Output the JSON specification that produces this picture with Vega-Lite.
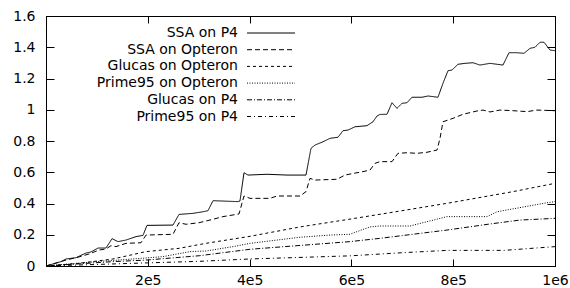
{
  "$schema": "https://vega.github.io/schema/vega-lite/v6.json",
  "width": 509,
  "height": 250,
  "autosize": {"type": "none"},
  "padding": {"left": 46, "top": 16, "right": 15, "bottom": 22},
  "background": "white",
  "config": {
    "view": {"stroke": "black", "strokeWidth": 1},
    "axis": {
      "domainColor": "black", "tickColor": "black", "labelColor": "black",
      "labelFont": "DejaVu Sans", "labelFontSize": 14, "grid": false, "title": null,
      "domainWidth": 1, "tickWidth": 1
    }
  },
  "data": {"values": [
    {"s":"SSA on P4","x":0,"y":0},{"s":"SSA on P4","x":29500,"y":0.028},{"s":"SSA on P4","x":39300,"y":0.045},{"s":"SSA on P4","x":58900,"y":0.053},{"s":"SSA on P4","x":78600,"y":0.083},{"s":"SSA on P4","x":88400,"y":0.09},{"s":"SSA on P4","x":102200,"y":0.115},{"s":"SSA on P4","x":117900,"y":0.115},{"s":"SSA on P4","x":129700,"y":0.175},{"s":"SSA on P4","x":141500,"y":0.156},{"s":"SSA on P4","x":157200,"y":0.166},{"s":"SSA on P4","x":176800,"y":0.188},{"s":"SSA on P4","x":190600,"y":0.196},{"s":"SSA on P4","x":198400,"y":0.26},{"s":"SSA on P4","x":249500,"y":0.262},{"s":"SSA on P4","x":261300,"y":0.33},{"s":"SSA on P4","x":288800,"y":0.337},{"s":"SSA on P4","x":308400,"y":0.347},{"s":"SSA on P4","x":318300,"y":0.354},{"s":"SSA on P4","x":328100,"y":0.418},{"s":"SSA on P4","x":377200,"y":0.412},{"s":"SSA on P4","x":381100,"y":0.416},{"s":"SSA on P4","x":389000,"y":0.597},{"s":"SSA on P4","x":396800,"y":0.582},{"s":"SSA on P4","x":434200,"y":0.587},{"s":"SSA on P4","x":473500,"y":0.582},{"s":"SSA on P4","x":510800,"y":0.582},{"s":"SSA on P4","x":520600,"y":0.753},{"s":"SSA on P4","x":528500,"y":0.774},{"s":"SSA on P4","x":544200,"y":0.795},{"s":"SSA on P4","x":557900,"y":0.817},{"s":"SSA on P4","x":573700,"y":0.824},{"s":"SSA on P4","x":583500,"y":0.866},{"s":"SSA on P4","x":593300,"y":0.87},{"s":"SSA on P4","x":607100,"y":0.891},{"s":"SSA on P4","x":630600,"y":0.898},{"s":"SSA on P4","x":642400,"y":0.923},{"s":"SSA on P4","x":650300,"y":0.96},{"s":"SSA on P4","x":656200,"y":0.97},{"s":"SSA on P4","x":669900,"y":0.971},{"s":"SSA on P4","x":679800,"y":1.045},{"s":"SSA on P4","x":689600,"y":1.009},{"s":"SSA on P4","x":699400,"y":1.041},{"s":"SSA on P4","x":709200,"y":1.045},{"s":"SSA on P4","x":719000,"y":1.08},{"s":"SSA on P4","x":738700,"y":1.08},{"s":"SSA on P4","x":750500,"y":1.088},{"s":"SSA on P4","x":770100,"y":1.08},{"s":"SSA on P4","x":779900,"y":1.169},{"s":"SSA on P4","x":789800,"y":1.25},{"s":"SSA on P4","x":797600,"y":1.254},{"s":"SSA on P4","x":809400,"y":1.291},{"s":"SSA on P4","x":823200,"y":1.297},{"s":"SSA on P4","x":838900,"y":1.301},{"s":"SSA on P4","x":852600,"y":1.286},{"s":"SSA on P4","x":872300,"y":1.297},{"s":"SSA on P4","x":897800,"y":1.286},{"s":"SSA on P4","x":909600,"y":1.365},{"s":"SSA on P4","x":925300,"y":1.365},{"s":"SSA on P4","x":939100,"y":1.361},{"s":"SSA on P4","x":950900,"y":1.393},{"s":"SSA on P4","x":960700,"y":1.4},{"s":"SSA on P4","x":970500,"y":1.432},{"s":"SSA on P4","x":978400,"y":1.432},{"s":"SSA on P4","x":990200,"y":1.382},{"s":"SSA on P4","x":1000000,"y":1.378},
    {"s":"SSA on Opteron","x":0,"y":0},{"s":"SSA on Opteron","x":39300,"y":0.038},{"s":"SSA on Opteron","x":64800,"y":0.058},{"s":"SSA on Opteron","x":84500,"y":0.077},{"s":"SSA on Opteron","x":104100,"y":0.102},{"s":"SSA on Opteron","x":117900,"y":0.109},{"s":"SSA on Opteron","x":127700,"y":0.13},{"s":"SSA on Opteron","x":137500,"y":0.124},{"s":"SSA on Opteron","x":157200,"y":0.145},{"s":"SSA on Opteron","x":186600,"y":0.149},{"s":"SSA on Opteron","x":196500,"y":0.198},{"s":"SSA on Opteron","x":249500,"y":0.203},{"s":"SSA on Opteron","x":261300,"y":0.277},{"s":"SSA on Opteron","x":275000,"y":0.267},{"s":"SSA on Opteron","x":300600,"y":0.277},{"s":"SSA on Opteron","x":328100,"y":0.299},{"s":"SSA on Opteron","x":347700,"y":0.316},{"s":"SSA on Opteron","x":379200,"y":0.333},{"s":"SSA on Opteron","x":389000,"y":0.448},{"s":"SSA on Opteron","x":400800,"y":0.433},{"s":"SSA on Opteron","x":440100,"y":0.433},{"s":"SSA on Opteron","x":453800,"y":0.448},{"s":"SSA on Opteron","x":499000,"y":0.448},{"s":"SSA on Opteron","x":510800,"y":0.476},{"s":"SSA on Opteron","x":518700,"y":0.561},{"s":"SSA on Opteron","x":528500,"y":0.55},{"s":"SSA on Opteron","x":571700,"y":0.555},{"s":"SSA on Opteron","x":587400,"y":0.582},{"s":"SSA on Opteron","x":611000,"y":0.597},{"s":"SSA on Opteron","x":622800,"y":0.604},{"s":"SSA on Opteron","x":636500,"y":0.614},{"s":"SSA on Opteron","x":646400,"y":0.657},{"s":"SSA on Opteron","x":656200,"y":0.668},{"s":"SSA on Opteron","x":679800,"y":0.668},{"s":"SSA on Opteron","x":691500,"y":0.721},{"s":"SSA on Opteron","x":709200,"y":0.725},{"s":"SSA on Opteron","x":728900,"y":0.721},{"s":"SSA on Opteron","x":748500,"y":0.728},{"s":"SSA on Opteron","x":768200,"y":0.742},{"s":"SSA on Opteron","x":774100,"y":0.817},{"s":"SSA on Opteron","x":779900,"y":0.923},{"s":"SSA on Opteron","x":799600,"y":0.945},{"s":"SSA on Opteron","x":819200,"y":0.971},{"s":"SSA on Opteron","x":846700,"y":0.992},{"s":"SSA on Opteron","x":858500,"y":0.998},{"s":"SSA on Opteron","x":872300,"y":0.986},{"s":"SSA on Opteron","x":891900,"y":0.998},{"s":"SSA on Opteron","x":917500,"y":0.994},{"s":"SSA on Opteron","x":945000,"y":0.988},{"s":"SSA on Opteron","x":964600,"y":0.998},{"s":"SSA on Opteron","x":1000000,"y":0.994},
    {"s":"Glucas on Opteron","x":0,"y":0},{"s":"Glucas on Opteron","x":64800,"y":0.017},{"s":"Glucas on Opteron","x":131600,"y":0.045},{"s":"Glucas on Opteron","x":196500,"y":0.092},{"s":"Glucas on Opteron","x":261300,"y":0.113},{"s":"Glucas on Opteron","x":314300,"y":0.145},{"s":"Glucas on Opteron","x":400800,"y":0.19},{"s":"Glucas on Opteron","x":499000,"y":0.25},{"s":"Glucas on Opteron","x":597200,"y":0.3},{"s":"Glucas on Opteron","x":656200,"y":0.331},{"s":"Glucas on Opteron","x":787700,"y":0.401},{"s":"Glucas on Opteron","x":917500,"y":0.476},{"s":"Glucas on Opteron","x":1000000,"y":0.529},
    {"s":"Prime95 on Opteron","x":0,"y":0},{"s":"Prime95 on Opteron","x":98200,"y":0.028},{"s":"Prime95 on Opteron","x":163100,"y":0.043},{"s":"Prime95 on Opteron","x":229900,"y":0.06},{"s":"Prime95 on Opteron","x":282900,"y":0.092},{"s":"Prime95 on Opteron","x":314300,"y":0.096},{"s":"Prime95 on Opteron","x":367400,"y":0.124},{"s":"Prime95 on Opteron","x":400800,"y":0.145},{"s":"Prime95 on Opteron","x":499000,"y":0.184},{"s":"Prime95 on Opteron","x":557900,"y":0.198},{"s":"Prime95 on Opteron","x":597200,"y":0.203},{"s":"Prime95 on Opteron","x":611000,"y":0.22},{"s":"Prime95 on Opteron","x":636500,"y":0.25},{"s":"Prime95 on Opteron","x":656200,"y":0.256},{"s":"Prime95 on Opteron","x":715100,"y":0.256},{"s":"Prime95 on Opteron","x":787700,"y":0.316},{"s":"Prime95 on Opteron","x":866400,"y":0.316},{"s":"Prime95 on Opteron","x":886000,"y":0.347},{"s":"Prime95 on Opteron","x":984300,"y":0.405},{"s":"Prime95 on Opteron","x":1000000,"y":0.412},
    {"s":"Glucas on P4","x":0,"y":0},{"s":"Glucas on P4","x":131600,"y":0.028},{"s":"Glucas on P4","x":196500,"y":0.038},{"s":"Glucas on P4","x":302000,"y":0.066},{"s":"Glucas on P4","x":400800,"y":0.107},{"s":"Glucas on P4","x":597200,"y":0.156},{"s":"Glucas on P4","x":656200,"y":0.177},{"s":"Glucas on P4","x":787700,"y":0.23},{"s":"Glucas on P4","x":872300,"y":0.269},{"s":"Glucas on P4","x":931200,"y":0.294},{"s":"Glucas on P4","x":1000000,"y":0.305},
    {"s":"Prime95 on P4","x":0,"y":0},{"s":"Prime95 on P4","x":100000,"y":0.01},{"s":"Prime95 on P4","x":200000,"y":0.02},{"s":"Prime95 on P4","x":302000,"y":0.03},{"s":"Prime95 on P4","x":400800,"y":0.045},{"s":"Prime95 on P4","x":597200,"y":0.065},{"s":"Prime95 on P4","x":700000,"y":0.085},{"s":"Prime95 on P4","x":787700,"y":0.1},{"s":"Prime95 on P4","x":900000,"y":0.1},{"s":"Prime95 on P4","x":1000000,"y":0.124}
  ]},
  "layer": [
    {
      "mark": {"type": "line", "color": "black", "strokeWidth": 1},
      "encoding": {
        "x": {"field": "x", "type": "quantitative", "scale": {"domain": [0, 1000000], "nice": false, "zero": false},
              "axis": {"orient": "bottom", "values": [0, 200000, 400000, 600000, 800000, 1000000], "tickSize": -7, "labelPadding": 14, "labelFlush": false, "labelOverlap": false,
                       "labelExpr": "datum.value == 0 ? '' : replace(format(datum.value, '.0e'), '+', '')"}},
        "y": {"field": "y", "type": "quantitative", "scale": {"domain": [0, 1.6], "nice": false},
              "axis": {"orient": "left", "values": [0, 0.2, 0.4, 0.6, 0.8, 1, 1.2, 1.4, 1.6], "tickSize": -8, "labelPadding": 19, "format": "~g", "labelOverlap": false}},
        "strokeDash": {"field": "s", "type": "nominal",
          "scale": {"domain": ["SSA on P4", "SSA on Opteron", "Glucas on Opteron", "Prime95 on Opteron", "Glucas on P4", "Prime95 on P4"],
                    "range": [[1, 0], [5, 3], [3, 3], [1, 1.5], [5, 2, 1, 2], [4, 3, 1, 3]]},
          "legend": {"title": null, "orient": "none", "legendX": 218, "legendY": 10, "symbolType": "M-6,0H6", "symbolSize": 64,
                     "symbolStrokeWidth": 1, "symbolStrokeColor": "black", "symbolFillColor": "transparent", "labelAlign": "right", "labelOffset": -40,
                     "labelFont": "DejaVu Sans", "labelFontSize": 14, "labelColor": "black", "rowPadding": 2.7, "padding": 0, "labelLimit": 0}}
      }
    },
    {
      "mark": {"type": "line", "strokeOpacity": 0},
      "encoding": {
        "x": {"field": "x", "type": "quantitative",
              "axis": {"orient": "top", "values": [0, 200000, 400000, 600000, 800000, 1000000], "tickSize": -7, "labels": false}},
        "y": {"field": "y", "type": "quantitative",
              "axis": {"orient": "right", "values": [0, 0.2, 0.4, 0.6, 0.8, 1, 1.2, 1.4, 1.6], "tickSize": -8, "labels": false}},
        "detail": {"field": "s", "type": "nominal"}
      }
    }
  ],
  "resolve": {"axis": {"x": "independent", "y": "independent"}}
}
